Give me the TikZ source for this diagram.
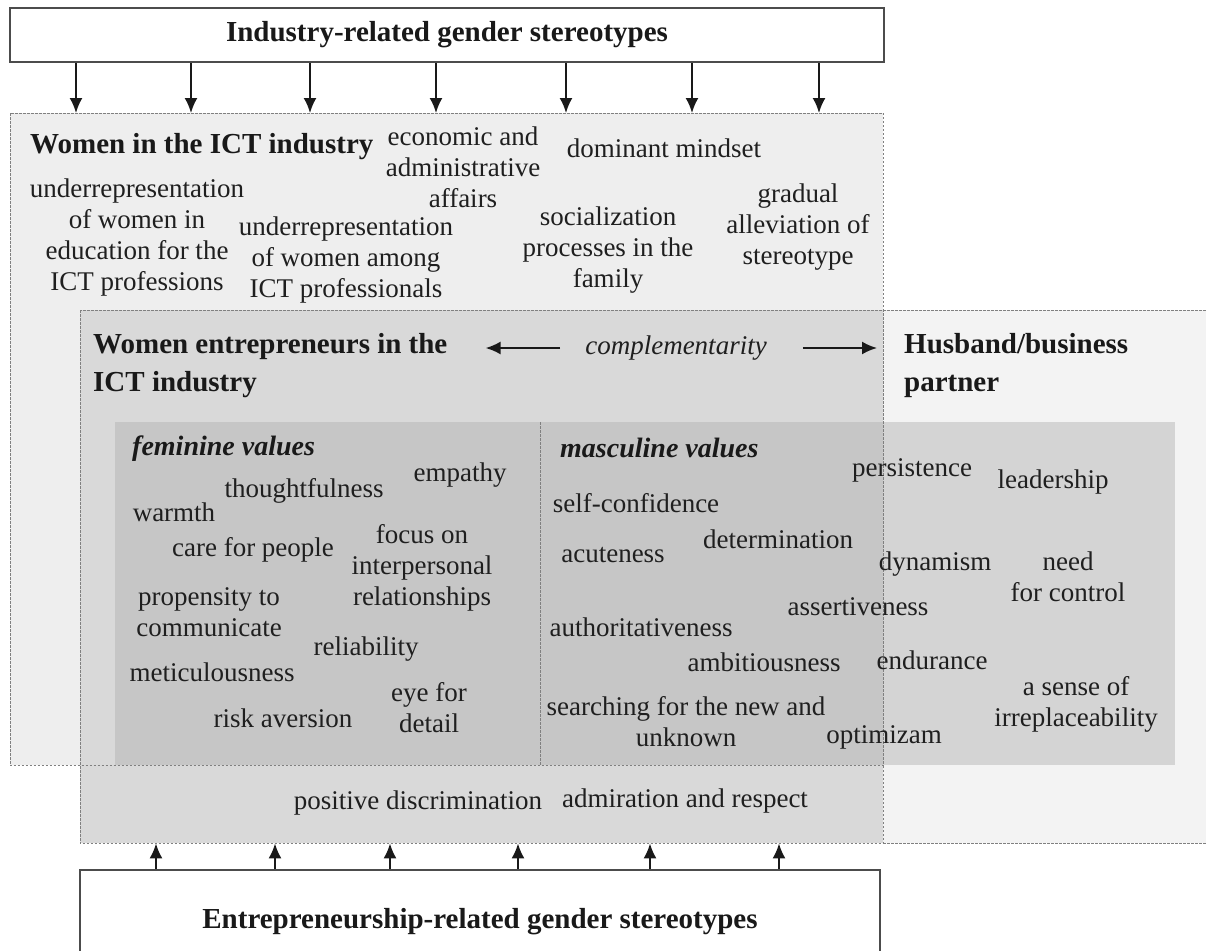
\documentclass[tikz,border=0pt]{standalone}
\usepackage{fontspec}
\setmainfont{Liberation Serif}
\usetikzlibrary{positioning, arrows.meta}

\definecolor{ictgray}{HTML}{EEEEEE}
\definecolor{entgray}{HTML}{D9D9D9}
\definecolor{husgray}{HTML}{F3F3F3}
\definecolor{valgray}{HTML}{C6C6C6}
\definecolor{pvalgray}{HTML}{D4D4D4}

\begin{document}
\begin{tikzpicture}[x=1pt, y=-1pt,
		word/.style={font=\fontsize{27}{31}\selectfont, align=center, inner sep=0pt, text=black!88},
		head/.style={font=\fontsize{29}{38}\selectfont\bfseries, align=left, inner sep=0pt, anchor=west, text=black!90},
		valhead/.style={font=\fontsize{28}{32}\selectfont\bfseries\itshape, inner sep=0pt, anchor=west, text=black!90},
		stereo/.style={draw=black!70, line width=2pt, fill=white, font=\fontsize{29}{33}\selectfont\bfseries, inner sep=0pt, text=black!90},
		region/.style={inner sep=0pt, anchor=north west},
		border/.style={draw=black!50, line width=1pt, dash pattern=on 2.5pt off 1.5pt},
		arrline/.style={->, line width=2pt, black!90},
		>={Latex[length=15pt, width=13pt]}
	]

	\useasboundingbox (0,0) rectangle (1206,950);
	\clip (0,0) rectangle (1206,950);
	\fill[white] (0,0) rectangle (1206,950);

	% areas
	\node[region, fill=ictgray, minimum width=873pt, minimum height=652pt] (ict) at (10,113) {};
	\node[region, fill=husgray, minimum width=340pt, minimum height=533pt] (husb) at (883,310) {};
	\node[region, fill=entgray, minimum width=803pt, minimum height=533pt] (entr) at (80,310) {};
	\node[region, fill=valgray, minimum width=425pt, minimum height=343pt] (fem) at (115,422) {};
	\node[region, fill=valgray, minimum width=343pt, minimum height=343pt] (masc) at (540,422) {};
	\node[region, fill=pvalgray, minimum width=292pt, minimum height=343pt] (pval) at (883,422) {};

	\draw[border] (ict.north west) rectangle (ict.south east);
	\draw[border] (entr.north west) rectangle (entr.south east);
	\draw[border] (husb.north west) -- (husb.north east) (husb.south west) -- (husb.south east);
	\draw[border] (fem.north east) -- (fem.south east);

	% stereotype boxes
	\node[stereo, minimum width=874pt, minimum height=54pt] (indster) at (447,35) {Industry-related gender stereotypes};
	\node[stereo, minimum width=800pt, minimum height=104pt] (entster) at (480,922) {Entrepreneurship-related gender stereotypes};

	\foreach \x in {76,191,310,436,566,692,819}
		\draw[arrline] (indster.south -| \x,0) -- (ict.north -| \x,0);
	\foreach \x in {156,275,390,518,650,779}
		\draw[arrline] (entster.north -| \x,0) -- (entr.south -| \x,0);

	% women in the ICT industry
	\node[head] (ictitle) at (30,147) {Women in the ICT industry};
	\node[word] (econ) at (463,167) {economic and\\administrative\\affairs};
	\node[word] (mindset) at (664,148) {dominant mindset};
	\node[word] (underedu) at (137,238) {underrepresentation\\of women in\\education for the\\ICT professions};
	\node[word] (underprof) at (346,260) {underrepresentation\\of women among\\ICT professionals};
	\node[word] (social) at (608,250) {socialization\\processes in the\\family};
	\node[word] (gradual) at (798,227) {gradual\\alleviation of\\stereotype};

	% entrepreneurs and partner
	\node[head] (entitle) at (93,366) {Women entrepreneurs in the\\ICT industry};
	\node[head] (hustitle) at (904,366) {Husband/business\\partner};
	\node[word, font=\fontsize{27}{31}\selectfont\itshape] (compl) at (676,348) {complementarity};
	\draw[arrline, shorten <=25pt, shorten >=38pt] (compl.west) -- (entitle.east |- compl.west);
	\draw[arrline, shorten <=36pt, shorten >=6pt] (compl.east) -- (husb.west |- compl.east);

	% feminine values
	\node[valhead] (femtitle) at (132,449) {feminine values};
	\node[word] (empathy) at (460,475) {empathy};
	\node[word] (thought) at (304,491) {thoughtfulness};
	\node[word] (warmth) at (174,512) {warmth};
	\node[word] (care) at (253,550) {care for people};
	\node[word] (focus) at (422,568) {focus on\\interpersonal\\relationships};
	\node[word] (propens) at (209,612) {propensity to\\communicate};
	\node[word] (reliab) at (366,649) {reliability};
	\node[word] (metic) at (212,672) {meticulousness};
	\node[word] (eye) at (429,708) {eye for\\detail};
	\node[word] (risk) at (283,718) {risk aversion};

	% masculine values
	\node[valhead] (mastitle) at (560,448) {masculine values};
	\node[word] (selfconf) at (636,503) {self-confidence};
	\node[word] (determ) at (778,539) {determination};
	\node[word] (acute) at (613,555) {acuteness};
	\node[word] (persist) at (912,470) {persistence};
	\node[word] (leader) at (1053,482) {leadership};
	\node[word] (dynam) at (935,564) {dynamism};
	\node[word] (control) at (1068,577) {need\\for control};
	\node[word] (assert) at (858,607) {assertiveness};
	\node[word] (author) at (641,627) {authoritativeness};
	\node[word] (ambit) at (764,662) {ambitiousness};
	\node[word] (endur) at (932,660) {endurance};
	\node[word] (irrepl) at (1076,704) {a sense of\\irreplaceability};
	\node[word] (search) at (686,722) {searching for the new and\\unknown};
	\node[word] (optim) at (884,737) {optimizam};

	% bottom strip
	\node[word] (posdisc) at (418,803) {positive discrimination};
	\node[word] (admir) at (685,801) {admiration and respect};

\end{tikzpicture}
\end{document}
